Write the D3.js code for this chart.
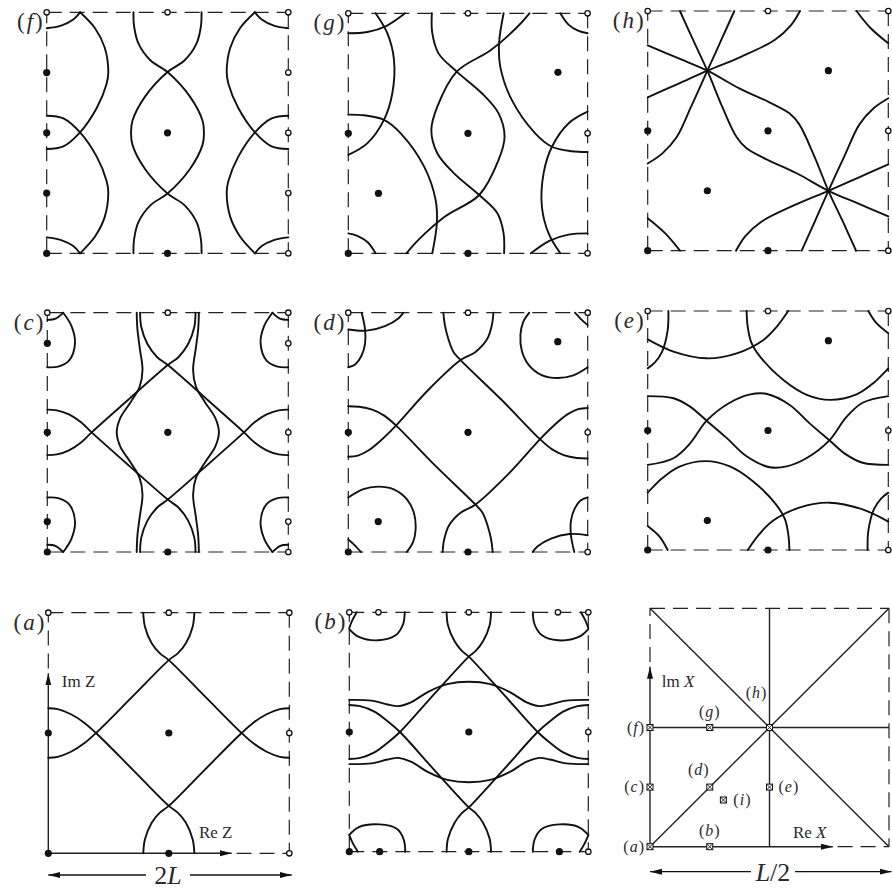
<!DOCTYPE html>
<html>
<head>
<meta charset="utf-8">
<script src="https://d3js.org/d3.v7.min.js"></script>
<style>
body { margin: 0; background: #fff; }
svg { display: block; }
text { font-family: 'Liberation Serif', 'Times New Roman', serif; fill: #2a2a2a; }
</style>
</head>
<body>
<svg id="fig" width="892" height="889"></svg>
<script>

// All positions are fractions of a square cell: u to the right, v upwards.

// Vortex positions. Open circles are the periodic copies on the top/right edges.
var dotsFilledA = [[0,0],[0.5,0],[0,0.5],[0.5,0.5]];
var dotsOpenA = [[0,1],[0.5,1],[1,1],[1,0.5],[1,0]];
var dotsFilledB = [[0,0],[0.127,0],[0.5,0],[0.879,0],[0,0.5],[0.5,0.5]];
var dotsOpenB = [[0,1],[0.122,1],[0.5,1],[0.873,1],[1,1],[1,0.5],[1,0]];
var dotsFilledC = [[0,0],[0,0.127],[0,0.5],[0,0.872],[0.5,0],[0.5,0.5]];
var dotsOpenC = [[0,1],[0.5,1],[1,1],[1,0.872],[1,0.5],[1,0.127],[1,0]];
var dotsFilledD = [[0,0],[0.5,0],[0,0.5],[0.5,0.5],[0.125,0.127],[0.875,0.879]];
var dotsFilledE = [[0,0],[0.5,0],[0,0.5],[0.5,0.5],[0.248,0.123],[0.751,0.876]];
var dotsFilledF = [[0,0],[0,0.25],[0,0.5],[0,0.75],[0.5,0],[0.5,0.5]];
var dotsOpenF = [[0,1],[0.5,1],[1,1],[1,0.75],[1,0.5],[1,0.25],[1,0]];
var dotsFilledG = [[0,0],[0.5,0],[0,0.5],[0.5,0.5],[0.126,0.25],[0.876,0.754]];
var dotsFilledH = [[0,0],[0.5,0],[0,0.5],[0.5,0.5],[0.248,0.25],[0.751,0.751]];

// Separatrices
var curvesA = [
  [[0.394,1],[0.401,0.942],[0.429,0.873],[0.463,0.831],[0.5,0.803],[0.65,0.652],[0.802,0.5],[0.851,0.457],[0.906,0.422],[0.961,0.401],[1,0.397]],
  [[0.606,1],[0.599,0.942],[0.571,0.873],[0.537,0.831],[0.5,0.803],[0.35,0.652],[0.198,0.5],[0.149,0.457],[0.094,0.422],[0.039,0.401],[0,0.397]],
  [[0.394,0],[0.401,0.058],[0.429,0.127],[0.463,0.169],[0.5,0.197],[0.65,0.348],[0.802,0.5],[0.851,0.543],[0.906,0.578],[0.961,0.599],[1,0.603]],
  [[0.606,0],[0.599,0.058],[0.571,0.127],[0.537,0.169],[0.5,0.197],[0.35,0.348],[0.198,0.5],[0.149,0.543],[0.094,0.578],[0.039,0.599],[0,0.603]]
];

var curvesB = [
  [[0.407,1],[0.413,0.945],[0.44,0.88],[0.47,0.84],[0.5,0.815],[0.645,0.658],[0.788,0.5],[0.84,0.455],[0.895,0.415],[0.955,0.392],[1,0.387]],
  [[0.593,1],[0.587,0.945],[0.56,0.88],[0.53,0.84],[0.5,0.815],[0.355,0.658],[0.212,0.5],[0.16,0.455],[0.105,0.415],[0.045,0.392],[0,0.387]],
  [[0.407,0],[0.413,0.055],[0.44,0.12],[0.47,0.16],[0.5,0.185],[0.645,0.342],[0.788,0.5],[0.84,0.545],[0.895,0.585],[0.955,0.608],[1,0.613]],
  [[0.593,0],[0.587,0.055],[0.56,0.12],[0.53,0.16],[0.5,0.185],[0.355,0.342],[0.212,0.5],[0.16,0.545],[0.105,0.585],[0.045,0.608],[0,0.613]],
  [[0,0.634],[0.093,0.631],[0.16,0.615],[0.205,0.608],[0.26,0.625],[0.33,0.668],[0.41,0.7],[0.5,0.71],[0.59,0.7],[0.67,0.668],[0.74,0.625],[0.795,0.608],[0.84,0.615],[0.907,0.631],[1,0.634]],
  [[0,0.366],[0.093,0.369],[0.16,0.385],[0.205,0.392],[0.26,0.375],[0.33,0.332],[0.41,0.3],[0.5,0.29],[0.59,0.3],[0.67,0.332],[0.74,0.375],[0.795,0.392],[0.84,0.385],[0.907,0.369],[1,0.366]],
  [[0,0.93],[0.04,0.897],[0.122,0.883],[0.195,0.905],[0.225,0.95],[0.232,1]],
  [[1,0.93],[0.96,0.897],[0.873,0.883],[0.805,0.905],[0.775,0.95],[0.768,1]],
  [[0,0.07],[0.04,0.103],[0.127,0.114],[0.2,0.095],[0.228,0.05],[0.234,0]],
  [[1,0.07],[0.96,0.103],[0.879,0.114],[0.805,0.095],[0.775,0.05],[0.768,0]],
  [[0.031,1],[0.012,0.965],[0,0.935]],
  [[0.969,1],[0.988,0.965],[1,0.935]],
  [[0.036,0],[0.015,0.035],[0,0.068]],
  [[0.964,0],[0.985,0.035],[1,0.068]]
];

var curvesC = [
  [[0.371,1],[0.374,0.93],[0.384,0.85],[0.395,0.76],[0.383,0.69],[0.345,0.625],[0.303,0.56],[0.288,0.5],[0.303,0.44],[0.345,0.375],[0.383,0.31],[0.395,0.24],[0.384,0.15],[0.374,0.07],[0.371,0]],
  [[0.629,1],[0.626,0.93],[0.616,0.85],[0.605,0.76],[0.617,0.69],[0.655,0.625],[0.697,0.56],[0.712,0.5],[0.697,0.44],[0.655,0.375],[0.617,0.31],[0.605,0.24],[0.616,0.15],[0.626,0.07],[0.629,0]],
  [[0.385,1],[0.39,0.94],[0.415,0.87],[0.455,0.815],[0.5,0.781],[0.66,0.64],[0.816,0.5],[0.86,0.458],[0.91,0.425],[0.96,0.408],[1,0.405]],
  [[0.615,1],[0.61,0.94],[0.585,0.87],[0.545,0.815],[0.5,0.781],[0.34,0.64],[0.184,0.5],[0.14,0.458],[0.09,0.425],[0.04,0.408],[0,0.405]],
  [[0.385,0],[0.39,0.06],[0.415,0.13],[0.455,0.185],[0.5,0.219],[0.66,0.36],[0.816,0.5],[0.86,0.542],[0.91,0.575],[0.96,0.592],[1,0.595]],
  [[0.615,0],[0.61,0.06],[0.585,0.13],[0.545,0.185],[0.5,0.219],[0.34,0.36],[0.184,0.5],[0.14,0.542],[0.09,0.575],[0.04,0.592],[0,0.595]],
  [[0.066,1],[0.1,0.945],[0.115,0.872],[0.09,0.8],[0.045,0.775],[0,0.772]],
  [[0,0.97],[0.035,0.975],[0.066,1]],
  [[0.066,0],[0.1,0.055],[0.115,0.128],[0.09,0.2],[0.045,0.225],[0,0.228]],
  [[0,0.03],[0.035,0.025],[0.066,0]],
  [[0.934,1],[0.9,0.945],[0.885,0.872],[0.91,0.8],[0.955,0.775],[1,0.772]],
  [[1,0.97],[0.965,0.975],[0.934,1]],
  [[0.934,0],[0.9,0.055],[0.885,0.128],[0.91,0.2],[0.955,0.225],[1,0.228]],
  [[1,0.03],[0.965,0.025],[0.934,0]]
];

var curvesD = [
  [[0.397,1],[0.403,0.95],[0.418,0.89],[0.44,0.835],[0.469,0.802],[0.641,0.635],[0.801,0.471],[0.85,0.43],[0.9,0.405],[0.955,0.393],[1,0.391]],
  [[0.606,1],[0.6,0.95],[0.58,0.89],[0.53,0.835],[0.469,0.802],[0.334,0.677],[0.195,0.524],[0.14,0.47],[0.085,0.425],[0.04,0.403],[0,0.398]],
  [[0.603,0],[0.597,0.05],[0.582,0.11],[0.56,0.165],[0.531,0.198],[0.359,0.365],[0.199,0.529],[0.15,0.57],[0.1,0.595],[0.045,0.607],[0,0.609]],
  [[0.394,0],[0.4,0.05],[0.42,0.11],[0.47,0.165],[0.531,0.198],[0.666,0.323],[0.805,0.476],[0.86,0.53],[0.915,0.575],[0.96,0.597],[1,0.602]],
  [[0,0.228],[0.06,0.262],[0.125,0.273],[0.19,0.262],[0.245,0.22],[0.275,0.16],[0.281,0.092],[0.27,0.04],[0.244,0]],
  [[1,0.772],[0.94,0.738],[0.875,0.727],[0.81,0.738],[0.755,0.78],[0.725,0.84],[0.719,0.908],[0.73,0.96],[0.756,1]],
  [[0,0.93],[0.077,0.925],[0.153,0.944],[0.209,0.976],[0.23,1]],
  [[0.056,1],[0.07,0.93],[0.07,0.87],[0.055,0.82],[0.03,0.785],[0,0.772]],
  [[1,0.07],[0.923,0.075],[0.847,0.056],[0.791,0.024],[0.77,0]],
  [[0.944,0],[0.93,0.07],[0.93,0.13],[0.945,0.18],[0.97,0.215],[1,0.228]],
  [[0.947,1],[0.975,0.97],[1,0.948]],
  [[0,0.052],[0.025,0.03],[0.053,0]]
];

var curvesE = [
  [[0,0.644],[0.107,0.635],[0.176,0.6],[0.245,0.541],[0.328,0.469],[0.411,0.392],[0.508,0.346],[0.578,0.35],[0.661,0.385],[0.755,0.459],[0.824,0.554],[0.893,0.616],[1,0.644]],
  [[1,0.356],[0.893,0.365],[0.824,0.4],[0.755,0.459],[0.672,0.531],[0.589,0.608],[0.492,0.654],[0.422,0.65],[0.339,0.615],[0.245,0.541],[0.176,0.446],[0.107,0.384],[0,0.356]],
  [[0,0.881],[0.107,0.83],[0.245,0.802],[0.37,0.823],[0.481,0.879],[0.536,0.934],[0.584,1]],
  [[1,0.119],[0.893,0.17],[0.755,0.198],[0.63,0.177],[0.519,0.121],[0.464,0.066],[0.416,0]],
  [[0.411,1],[0.415,0.94],[0.43,0.87],[0.467,0.809],[0.564,0.711],[0.661,0.649],[0.758,0.628],[0.868,0.651],[0.94,0.7],[1,0.76]],
  [[0.589,0],[0.585,0.06],[0.57,0.13],[0.533,0.191],[0.436,0.289],[0.339,0.351],[0.242,0.372],[0.132,0.349],[0.06,0.3],[0,0.24]],
  [[0.086,1],[0.083,0.92],[0.06,0.83],[0.03,0.785],[0,0.76]],
  [[0.914,0],[0.917,0.08],[0.94,0.17],[0.97,0.215],[1,0.24]],
  [[0.917,1],[0.95,0.95],[1,0.907]],
  [[0.083,0],[0.05,0.055],[0,0.1]]
];

var curvesF = [
  [[0.359,1],[0.362,0.94],[0.38,0.87],[0.43,0.8],[0.5,0.752],[0.593,0.65],[0.645,0.55],[0.651,0.5],[0.645,0.45],[0.593,0.35],[0.5,0.248],[0.43,0.2],[0.38,0.13],[0.362,0.06],[0.359,0]],
  [[0.641,1],[0.638,0.94],[0.62,0.87],[0.57,0.8],[0.5,0.752],[0.407,0.65],[0.355,0.55],[0.349,0.5],[0.355,0.45],[0.407,0.35],[0.5,0.248],[0.57,0.2],[0.62,0.13],[0.638,0.06],[0.641,0]],
  [[0,0.571],[0.069,0.56],[0.138,0.502],[0.207,0.401],[0.248,0.3],[0.255,0.252],[0.24,0.15],[0.2,0.07],[0.138,0]],
  [[0,0.433],[0.069,0.444],[0.138,0.502],[0.207,0.603],[0.248,0.704],[0.255,0.752],[0.24,0.854],[0.2,0.934],[0.138,1]],
  [[1,0.571],[0.931,0.56],[0.862,0.502],[0.793,0.401],[0.752,0.3],[0.745,0.252],[0.76,0.15],[0.8,0.07],[0.862,0]],
  [[1,0.433],[0.931,0.444],[0.862,0.502],[0.793,0.603],[0.752,0.704],[0.745,0.752],[0.76,0.854],[0.8,0.934],[0.862,1]],
  [[0,0.934],[0.06,0.945],[0.11,0.97],[0.138,1]],
  [[0,0.066],[0.06,0.055],[0.11,0.03],[0.138,0]],
  [[1,0.934],[0.94,0.945],[0.89,0.97],[0.862,1]],
  [[1,0.066],[0.94,0.055],[0.89,0.03],[0.862,0]]
];

var curvesG = [
  [[0.349,1],[0.351,0.917],[0.377,0.833],[0.453,0.757],[0.558,0.667],[0.628,0.583],[0.653,0.486],[0.628,0.389],[0.547,0.243],[0.404,0.153],[0.293,0.056],[0.243,0]],
  [[0.757,1],[0.707,0.944],[0.596,0.847],[0.453,0.757],[0.372,0.611],[0.347,0.514],[0.372,0.417],[0.442,0.333],[0.547,0.243],[0.623,0.167],[0.649,0.083],[0.651,0]],
  [[0.649,1],[0.63,0.875],[0.635,0.778],[0.683,0.639],[0.781,0.5],[0.851,0.444],[0.934,0.425],[1,0.422]],
  [[0.351,0],[0.37,0.125],[0.365,0.222],[0.317,0.361],[0.219,0.5],[0.149,0.556],[0.066,0.575],[0,0.578]],
  [[1,0.59],[0.921,0.542],[0.851,0.444],[0.816,0.333],[0.809,0.194],[0.837,0.083],[0.886,0]],
  [[0,0.41],[0.079,0.458],[0.149,0.556],[0.184,0.667],[0.191,0.806],[0.163,0.917],[0.114,1]],
  [[0,0.917],[0.08,0.922],[0.16,0.948],[0.237,1]],
  [[1,0.083],[0.92,0.078],[0.84,0.052],[0.763,0]],
  [[0.886,1],[0.92,0.953],[0.96,0.928],[1,0.917]],
  [[0.114,0],[0.08,0.047],[0.04,0.072],[0,0.083]]
];

var curvesH = [
  [[0.134,1],[0.19,0.876],[0.248,0.751],[0.31,0.6],[0.37,0.473],[0.411,0.427],[0.494,0.381],[0.619,0.323],[0.751,0.25],[0.876,0.196],[1,0.143]],
  [[0.866,0],[0.81,0.124],[0.751,0.25],[0.69,0.4],[0.63,0.527],[0.589,0.573],[0.506,0.619],[0.381,0.677],[0.248,0.751],[0.124,0.804],[0,0.857]],
  [[0.36,1],[0.304,0.875],[0.248,0.751],[0.18,0.6],[0.12,0.473],[0.06,0.405],[0,0.364]],
  [[0.633,1],[0.595,0.94],[0.529,0.88],[0.388,0.809],[0.248,0.751],[0.124,0.695],[0,0.64]],
  [[0.64,0],[0.696,0.125],[0.751,0.25],[0.82,0.4],[0.88,0.527],[0.94,0.595],[1,0.636]],
  [[0.367,0],[0.405,0.06],[0.471,0.12],[0.612,0.191],[0.751,0.25],[0.876,0.305],[1,0.36]],
  [[0.868,1],[0.925,0.93],[1,0.865]],
  [[0,0.135],[0.075,0.07],[0.134,0]]
];

// The parameter-plane panel
var iLines = [[[0,1],[1,0]],[[0,0],[1,1]],[[0.5,0],[0.5,1]],[[0,0.5],[1,0.5]]];
var iPoints = [["a",0,0],["b",0.25,0],["c",0,0.25],["d",0.25,0.25],["e",0.5,0.25],
               ["f",0,0.5],["g",0.25,0.5],["h",0.5,0.5],["i",0.307,0.196]];
var iLabelPlace = {a:[-5,5,"end"], b:[0,-11,"middle"], c:[-5,5,"end"], d:[-11,-12,"middle"],
                   e:[9,5,"start"], f:[-5,5,"end"], g:[0,-11,"middle"], h:[-13,-30,"middle"], i:[10,5,"start"]};

// axis arrows: [u of the Re-arrow tip, v of the Im-arrow tip]
var axesA = [0.761, 0.748];
var axesI = [0.765, 0.755];

var panels = [
  {id:"f", box:[46.7,12.3,241.6,241], curves:curvesF, filled:dotsFilledF, open:dotsOpenF},
  {id:"g", box:[348.3,13.3,239.3,240], curves:curvesG, filled:dotsFilledG, open:dotsOpenA},
  {id:"h", box:[647.7,11,240.6,239.7], curves:curvesH, filled:dotsFilledH, open:dotsOpenA},
  {id:"c", box:[47.3,312.7,241,239.3], curves:curvesC, filled:dotsFilledC, open:dotsOpenC},
  {id:"d", box:[348.3,312.7,239.4,239.3], curves:curvesD, filled:dotsFilledD, open:dotsOpenA},
  {id:"e", box:[647.7,311,240.6,239], curves:curvesE, filled:dotsFilledE, open:dotsOpenA},
  {id:"a", box:[48.3,612.7,241,240.6], curves:curvesA, filled:dotsFilledA, open:dotsOpenA, axes:axesA},
  {id:"b", box:[349.3,612.3,239,239.4], curves:curvesB, filled:dotsFilledB, open:dotsOpenB}
];

var svg = d3.select("#fig");

svg.append("defs").append("marker")
  .attr("id", "arrow")
  .attr("viewBox", "0 0 12 8")
  .attr("refX", 12).attr("refY", 4)
  .attr("markerWidth", 12).attr("markerHeight", 8)
  .attr("markerUnits", "userSpaceOnUse")
  .attr("orient", "auto-start-reverse")
  .append("path").attr("d", "M0,1 L12,4 L0,7 Z").attr("fill", "#111");

var dash = "15,8";

function scalesFor(box) {
  return {
    x: d3.scaleLinear().domain([0,1]).range([box[0], box[0] + box[2]]),
    y: d3.scaleLinear().domain([0,1]).range([box[1] + box[3], box[1]])
  };
}

function seg(g, x, y, a, b, dashed) {
  var l = g.append("line")
    .attr("x1", x(a[0])).attr("y1", y(a[1]))
    .attr("x2", x(b[0])).attr("y2", y(b[1]))
    .attr("stroke", "#222").attr("stroke-width", dashed ? 1.2 : 1.4);
  if (dashed) l.attr("stroke-dasharray", dash);
  return l;
}

function frame(g, s, axes) {
  if (!axes) {
    seg(g, s.x, s.y, [0,1], [1,1], true);
    seg(g, s.x, s.y, [1,1], [1,0], true);
    seg(g, s.x, s.y, [0,0], [0,1], true);
    seg(g, s.x, s.y, [0,0], [1,0], true);
    return;
  }
  seg(g, s.x, s.y, [0,1], [1,1], true);
  seg(g, s.x, s.y, [1,1], [1,0], true);
  seg(g, s.x, s.y, [0,axes[1] + 0.02], [0,1], true);
  seg(g, s.x, s.y, [axes[0] + 0.02,0], [1,0], true);
  seg(g, s.x, s.y, [0,0], [0,axes[1]], false).attr("marker-end", "url(#arrow)");
  seg(g, s.x, s.y, [0,0], [axes[0],0], false).attr("marker-end", "url(#arrow)");
}

// "(x)" with an italic letter
function tag(g, x, y, letter, size, anchor, spacing) {
  var t = g.append("text")
    .attr("x", x).attr("y", y)
    .attr("text-anchor", anchor)
    .style("font-size", size + "px")
    .style("letter-spacing", spacing + "px");
  t.append("tspan").text("(");
  t.append("tspan").style("font-style", "italic").text(letter);
  t.append("tspan").text(")");
  return t;
}

panels.forEach(function (p) {
  var s = scalesFor(p.box);
  var g = svg.append("g").attr("class", "panel-" + p.id);
  var line = d3.line()
    .x(function (d) { return s.x(d[0]); })
    .y(function (d) { return s.y(d[1]); })
    .curve(d3.curveCatmullRom.alpha(0.5));

  frame(g, s, p.axes);

  g.selectAll("path.sep").data(p.curves).enter().append("path")
    .attr("class", "sep")
    .attr("d", line)
    .attr("fill", "none")
    .attr("stroke", "#111")
    .attr("stroke-width", 1.9)
    .attr("stroke-linecap", "round");

  g.selectAll("circle.filled").data(p.filled).enter().append("circle")
    .attr("class", "filled")
    .attr("cx", function (d) { return s.x(d[0]); })
    .attr("cy", function (d) { return s.y(d[1]); })
    .attr("r", 3.6)
    .attr("fill", "#111");

  g.selectAll("circle.open").data(p.open).enter().append("circle")
    .attr("class", "open")
    .attr("cx", function (d) { return s.x(d[0]); })
    .attr("cy", function (d) { return s.y(d[1]); })
    .attr("r", 2.7)
    .attr("fill", "#fff")
    .attr("stroke", "#111")
    .attr("stroke-width", 1.3);

  tag(g, p.box[0] - 2, p.box[1] + 17, p.id, 23, "end", 2);

  if (p.id === "a") {
    g.append("text").attr("x", s.x(0.056)).attr("y", s.y(0.69))
      .style("font-size", "17px").text("Im Z");
    g.append("text").attr("x", s.x(0.625)).attr("y", s.y(0.064))
      .style("font-size", "17px").text("Re Z");
  }
});

// parameter plane panel
(function () {
  var box = [650, 608.3, 239, 238.4];
  var s = scalesFor(box);
  var g = svg.append("g").attr("class", "panel-i");
  frame(g, s, axesI);
  iLines.forEach(function (l) { seg(g, s.x, s.y, l[0], l[1], false); });

  var m = g.selectAll("g.mark").data(iPoints).enter().append("g")
    .attr("class", "mark")
    .attr("transform", function (d) { return "translate(" + s.x(d[1]) + "," + s.y(d[2]) + ")"; });
  m.append("rect").attr("x", -3).attr("y", -3).attr("width", 6).attr("height", 6)
    .attr("fill", "#fff").attr("stroke", "#111").attr("stroke-width", 1);
  m.append("path").attr("d", "M-3,-3L3,3M-3,3L3,-3").attr("stroke", "#111").attr("stroke-width", 0.9);

  iPoints.forEach(function (d) {
    var pl = iLabelPlace[d[0]];
    tag(g, s.x(d[1]) + pl[0], s.y(d[2]) + pl[1], d[0], 16, pl[2], 1);
  });

  var t1 = g.append("text").attr("x", s.x(0.049)).attr("y", s.y(0.671)).style("font-size", "17px");
  t1.append("tspan").text("lm ");
  t1.append("tspan").style("font-style", "italic").text("X");
  var t2 = g.append("text").attr("x", s.x(0.598)).attr("y", s.y(0.036)).style("font-size", "17px");
  t2.append("tspan").text("Re ");
  t2.append("tspan").style("font-style", "italic").text("X");
})();

// dimension arrows under the bottom row
function dimension(x0, x1, y, gap0, gap1, label) {
  var g = svg.append("g");
  g.append("line").attr("x1", gap0).attr("x2", x0).attr("y1", y).attr("y2", y)
    .attr("stroke", "#111").attr("stroke-width", 1.3).attr("marker-end", "url(#arrow)");
  g.append("line").attr("x1", gap1).attr("x2", x1).attr("y1", y).attr("y2", y)
    .attr("stroke", "#111").attr("stroke-width", 1.3).attr("marker-end", "url(#arrow)");
  var t = g.append("text").attr("x", (gap0 + gap1) / 2).attr("y", y + 9)
    .attr("text-anchor", "middle").style("font-size", "26px");
  label(t);
}
dimension(48.3, 291.7, 875, 146, 190, function (t) {
  t.append("tspan").text("2");
  t.append("tspan").style("font-style", "italic").text("L");
});
dimension(650, 891.5, 871.7, 751, 795, function (t) {
  t.append("tspan").style("font-style", "italic").text("L");
  t.append("tspan").text("/2");
});

</script>
</body>
</html>
